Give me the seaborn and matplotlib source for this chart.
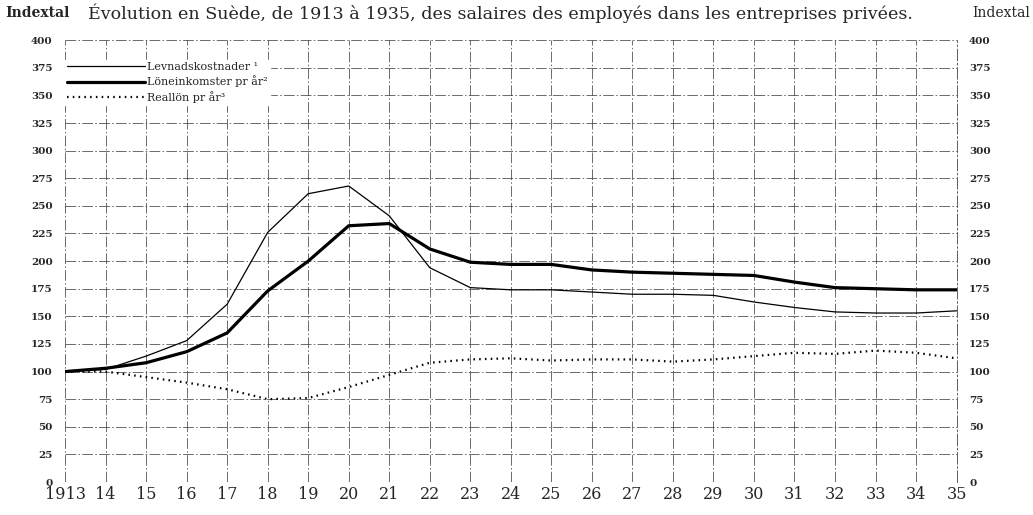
import pandas as pd
import matplotlib
matplotlib.use('Agg')
import matplotlib.pyplot as plt
import seaborn as sns

sns.set_style('white')
plt.rcParams['font.family'] = ['DejaVu Serif']

years = list(range(1913, 1936))
levnadskostnader = [100, 102, 114, 128, 161, 226, 261, 268, 241, 194, 176, 174,
                    174, 172, 170, 170, 169, 163, 158, 154, 153, 153, 155]
loneinkomster = [100, 103, 108, 118, 135, 173, 200, 232, 234, 211, 199, 197,
                 197, 192, 190, 189, 188, 187, 181, 176, 175, 174, 174]
reallon = [100, 100, 95, 90, 84, 75, 76, 86, 97, 108, 111, 112,
           110, 111, 111, 109, 111, 114, 117, 116, 119, 117, 112]

x_labels = ['1913'] + [str(y)[2:] for y in years[1:]]
y_ticks = list(range(0, 401, 25))

df = pd.DataFrame({'year': years, 'lev': levnadskostnader,
                   'lon': loneinkomster, 'real': reallon})

grid_ls = (0, (14, 3, 2, 3))

fig = plt.figure(figsize=(10.33, 5.15), dpi=100)
ax = fig.add_axes([0.063, 0.064, 0.863, 0.858])

sns.lineplot(data=df, x='year', y='lev', color='black', lw=0.9,
             label='Levnadskostnader \u00b9', ax=ax)
sns.lineplot(data=df, x='year', y='lon', color='black', lw=2.3,
             label='L\u00f6neinkomster pr \u00e5r\u00b2', ax=ax)
sns.lineplot(data=df, x='year', y='real', color='black', lw=1.6,
             linestyle=(0, (0.7, 1.9)), label='Reall\u00f6n pr \u00e5r\u00b3', ax=ax)

ax.set_xlim(1913, 1935)
ax.set_ylim(0, 400)
ax.set_xticks(years)
ax.set_xticklabels(x_labels, fontsize=11.5)
ax.set_yticks(y_ticks)
ax.set_yticklabels([str(v) for v in y_ticks], fontsize=7.5, fontweight='bold')
ax.tick_params(axis='y', length=0, pad=9, labelright=True)
ax.tick_params(axis='x', length=0, pad=3)
ax.set_xlabel('')
ax.set_ylabel('')

ax.grid(True, color='#444444', lw=0.55, linestyle=grid_ls)
ax.set_axisbelow(True)
for side in ['left', 'bottom', 'top']:
    ax.spines[side].set_visible(False)
ax.spines['right'].set_linestyle(grid_ls)
ax.spines['right'].set_linewidth(0.6)
ax.spines['right'].set_color('#444444')

leg = ax.legend(loc='upper left', bbox_to_anchor=(0.0, 0.955), borderaxespad=0,
                fontsize=8, handlelength=7, handletextpad=0.2, labelspacing=0.3,
                frameon=True, fancybox=False, borderpad=0.2)
leg.get_frame().set_facecolor('white')
leg.get_frame().set_edgecolor('white')
leg.get_frame().set_alpha(1)

fig.text(0.005, 0.975, 'Indextal', fontsize=10, fontweight='bold', va='center', ha='left')
fig.text(0.997, 0.975, 'Indextal', fontsize=10, va='center', ha='right')
fig.text(0.484, 0.975, '\u00c9volution en Su\u00e8de, de 1913 \u00e0 1935, des salaires des employ\u00e9s '
         'dans les entreprises priv\u00e9es.', fontsize=12.6, va='center', ha='center')

fig.savefig('out.png', dpi=100)
